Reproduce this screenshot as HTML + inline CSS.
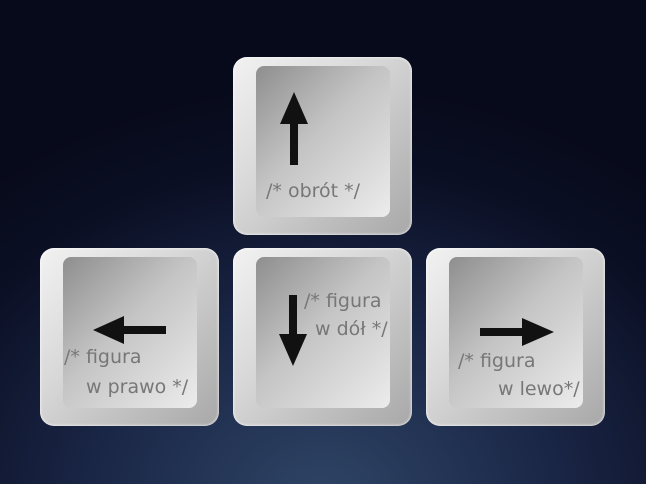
<!DOCTYPE html>
<html><head><meta charset="utf-8"><style>
body{margin:0;width:646px;height:484px;overflow:hidden;background:radial-gradient(ellipse 520px 420px at 323px 500px,#2f4566 0%,#1a2646 45%,#0b0f24 80%,#070a1a 100%);font-family:"DejaVu Sans","Liberation Sans",sans-serif;position:relative}
.key{position:absolute;width:179px;height:178px;border-radius:14px;background:linear-gradient(135deg,#f2f2f2 0%,#d8d8d8 40%,#a8a8a8 100%);box-shadow:inset 0 0 3px #fff}
.inner{position:absolute;left:23px;top:9px;width:134px;height:151px;border-radius:8px;background:linear-gradient(135deg,#8e8e8e 0%,#c4c4c4 45%,#ececec 100%)}
.t{position:absolute;color:#777;font-size:19px;white-space:nowrap}
svg{position:absolute;left:0;top:0}
</style></head><body>
<div class="key" style="left:233px;top:57px"><div class="inner"></div>
<span class="t" style="left:33px;top:123px">/* obrót */</span></div>
<div class="key" style="left:40px;top:248px"><div class="inner"></div>
<span class="t" style="left:24px;top:98px">/* figura</span>
<span class="t" style="left:46px;top:128px">w prawo */</span></div>
<div class="key" style="left:233px;top:248px"><div class="inner"></div>
<span class="t" style="left:71px;top:42px">/* figura</span>
<span class="t" style="left:82px;top:70px">w dół */</span></div>
<div class="key" style="left:426px;top:248px"><div class="inner"></div>
<span class="t" style="left:32px;top:102px">/* figura</span>
<span class="t" style="left:72px;top:130px">w lewo*/</span></div>
<svg width="646" height="484">
<g fill="#111">
<rect x="290" y="120" width="8" height="45"/><polygon points="294,92 280,124 308,124"/>
<rect x="118" y="326" width="48" height="8"/><polygon points="93,330 124,316 124,344"/>
<rect x="289" y="295" width="8" height="42"/><polygon points="293,366 279,334 307,334"/>
<rect x="480" y="328" width="46" height="8"/><polygon points="554,332 522,318 522,346"/>
</g></svg>
</body></html>
